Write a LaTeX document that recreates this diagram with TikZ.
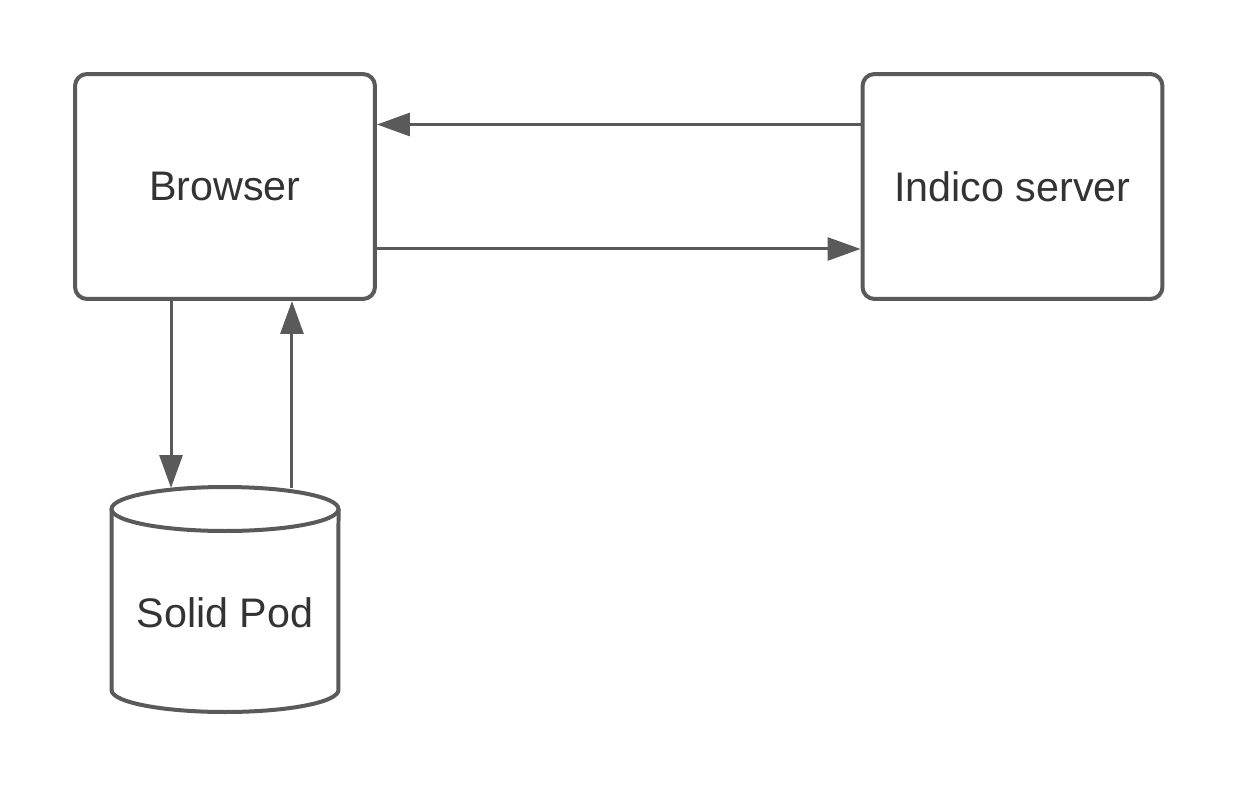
\documentclass[tikz,border=0pt]{standalone}
\usepackage{fontspec}
\setmainfont{Liberation Sans}
\usetikzlibrary{positioning,arrows.meta}
\definecolor{edgegray}{HTML}{5A5A5A}
\definecolor{textgray}{HTML}{333333}
\tikzset{box/.style = {draw = edgegray, line width = 0.08cm, rounded corners = 0.24cm,
    minimum width = 6cm, minimum height = 4.5cm, text = textgray, font = \fontsize{23.5}{28}\selectfont},
  podline/.style = {draw = edgegray, line width = 0.08cm},
  label/.style = {text = textgray, font = \fontsize{23.5}{28}\selectfont},
  flow/.style = {draw = edgegray, line width = 0.06cm,
    -{Triangle[length = 0.66cm, width = 0.46cm]}}}
\begin{document}
\begin{tikzpicture}[x = 0.02cm, y = -0.02cm]
\useasboundingbox (0,0) rectangle (1238,788);
\node[box] (browser) at (225,186.5) {Browser};
\node[box] (indico) at (1012.5,186.5) {Indico server};
% solid pod cylinder
\draw[podline] (111.5,509) -- (111.5,690) arc[start angle = 180, end angle = 360,
  x radius = 2.27cm, y radius = 0.44cm] -- (338.5,509);
\draw[podline] (225,509) ellipse[x radius = 2.27cm, y radius = 0.44cm];
\node[label] (solid) at (225,613) {Solid Pod};
\coordinate (podtop) at (225,488);
\draw[flow] ([yshift = 1.24cm]indico.west) -- ([yshift = 1.24cm]browser.east);
\draw[flow] ([yshift = -1.25cm]browser.east) -- ([yshift = -1.25cm]indico.west);
\draw[flow] ([xshift = -1.08cm]browser.south) -- ([xshift = -1.08cm]browser.south |- podtop);
\draw[flow] ([xshift = 1.34cm]browser.south |- podtop) -- ([xshift = 1.34cm]browser.south);
\end{tikzpicture}
\end{document}
